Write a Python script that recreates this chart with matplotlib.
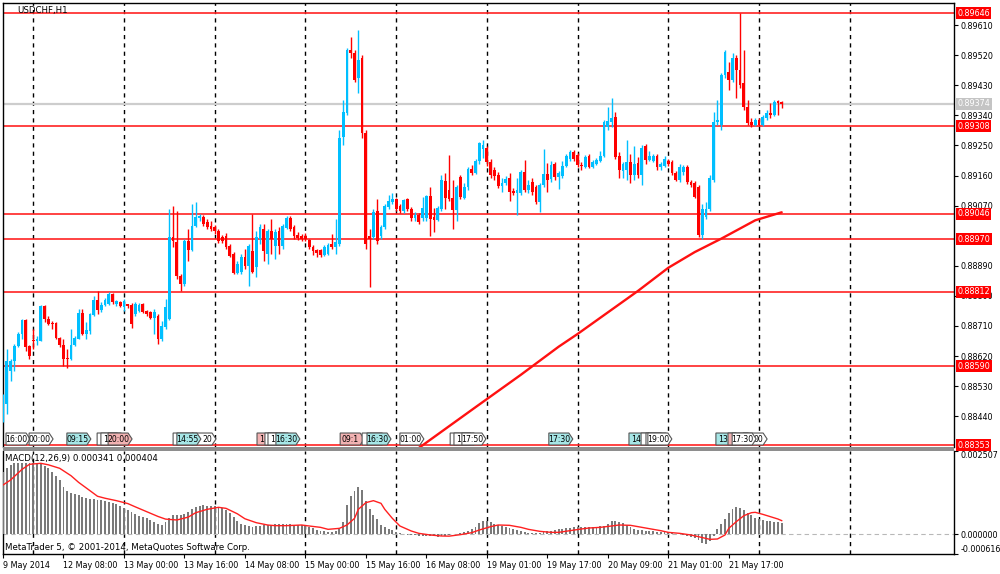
import numpy as np
import matplotlib
matplotlib.use('Agg')
import matplotlib.pyplot as plt
from matplotlib.patches import Polygon, Rectangle
from matplotlib.transforms import blended_transform_factory

# ---------------- DATA ----------------
opens = [0.88430,0.88478,0.88576,0.88606,0.88650,0.88686,0.88728,0.88650,0.88668,0.88665,
0.88665,0.88770,0.88731,0.88719,0.88719,0.88674,0.88653,0.88615,0.88612,0.88653,
0.88671,0.88749,0.88686,0.88695,0.88743,0.88788,0.88758,0.88773,0.88776,0.88805,
0.88776,0.88782,0.88767,0.88776,0.88773,0.88746,0.88755,0.88776,0.88755,0.88752,
0.88734,0.88740,0.88671,0.88707,0.88731,0.88975,0.88960,0.88859,0.88835,0.88963,
0.88937,0.89008,0.89032,0.89035,0.89020,0.89008,0.89005,0.88993,0.88975,0.88978,
0.88948,0.88925,0.88868,0.88871,0.88916,0.88889,0.88934,0.88886,0.88969,0.88999,
0.88925,0.88993,0.88948,0.88993,0.88948,0.89002,0.89032,0.89005,0.88981,0.88978,
0.88978,0.88966,0.88945,0.88937,0.88937,0.88922,0.88925,0.88954,0.88945,0.88954,
0.89276,0.89348,0.89536,0.89527,0.89452,0.89512,0.89288,0.88978,0.88975,0.89053,
0.88978,0.89005,0.89065,0.89080,0.89089,0.89068,0.89053,0.89089,0.89059,0.89032,
0.89041,0.89032,0.89032,0.89100,0.89035,0.89026,0.89059,0.89145,0.89118,0.89094,
0.89056,0.89157,0.89094,0.89127,0.89180,0.89169,0.89202,0.89238,0.89243,0.89199,
0.89178,0.89163,0.89130,0.89139,0.89154,0.89115,0.89109,0.89109,0.89172,0.89118,
0.89142,0.89127,0.89080,0.89133,0.89166,0.89151,0.89193,0.89157,0.89160,0.89187,
0.89208,0.89229,0.89220,0.89190,0.89184,0.89217,0.89184,0.89193,0.89202,0.89217,
0.89306,0.89321,0.89336,0.89217,0.89175,0.89178,0.89199,0.89163,0.89196,0.89163,
0.89249,0.89205,0.89202,0.89217,0.89184,0.89187,0.89202,0.89199,0.89169,0.89148,
0.89172,0.89184,0.89142,0.89139,0.89127,0.88981,0.89035,0.89059,0.89148,0.89321,
0.89312,0.89461,0.89470,0.89446,0.89512,0.89476,0.89437,0.89366,0.89321,0.89312,
0.89327,0.89312,0.89333,0.89348,0.89342,0.89384,0.89381]

closes = [0.88478,0.88606,0.88606,0.88650,0.88686,0.88728,0.88647,0.88621,0.88665,0.88671,
0.88770,0.88731,0.88716,0.88716,0.88674,0.88653,0.88612,0.88612,0.88653,0.88674,
0.88749,0.88686,0.88698,0.88746,0.88788,0.88758,0.88773,0.88788,0.88805,0.88782,
0.88785,0.88770,0.88785,0.88770,0.88716,0.88776,0.88773,0.88752,0.88746,0.88734,
0.88752,0.88671,0.88710,0.88767,0.88975,0.88963,0.88859,0.88835,0.88963,0.88937,
0.89008,0.89035,0.89038,0.89014,0.89005,0.88999,0.88993,0.88963,0.88963,0.88945,
0.88919,0.88868,0.88895,0.88916,0.88889,0.88948,0.88871,0.88975,0.89005,0.88934,
0.88993,0.88969,0.88990,0.88948,0.89008,0.89032,0.88999,0.88978,0.88972,0.88969,
0.88969,0.88945,0.88934,0.88928,0.88922,0.88945,0.88951,0.88945,0.88960,0.89273,
0.89351,0.89536,0.89527,0.89446,0.89506,0.89288,0.88954,0.88969,0.89050,0.88963,
0.89005,0.89068,0.89083,0.89089,0.89059,0.89053,0.89086,0.89059,0.89032,0.89041,
0.89020,0.89062,0.89100,0.89029,0.89026,0.89062,0.89148,0.89094,0.89091,0.89056,
0.89127,0.89097,0.89127,0.89180,0.89169,0.89202,0.89258,0.89252,0.89199,0.89163,
0.89160,0.89130,0.89139,0.89151,0.89112,0.89109,0.89118,0.89172,0.89118,0.89133,
0.89112,0.89080,0.89133,0.89166,0.89148,0.89190,0.89157,0.89169,0.89187,0.89217,
0.89229,0.89208,0.89190,0.89187,0.89214,0.89184,0.89199,0.89205,0.89217,0.89321,
0.89324,0.89333,0.89214,0.89178,0.89193,0.89199,0.89163,0.89193,0.89163,0.89243,
0.89205,0.89217,0.89217,0.89184,0.89193,0.89208,0.89193,0.89169,0.89148,0.89184,
0.89184,0.89142,0.89133,0.89097,0.88981,0.89059,0.89059,0.89154,0.89321,0.89327,
0.89461,0.89530,0.89446,0.89512,0.89476,0.89431,0.89366,0.89318,0.89312,0.89327,
0.89312,0.89336,0.89348,0.89342,0.89381,0.89378,0.89374]

highs = [0.88507,0.88642,0.88612,0.88656,0.88692,0.88731,0.88731,0.88653,0.88701,0.88680,
0.88773,0.88773,0.88740,0.88725,0.88722,0.88677,0.88671,0.88642,0.88701,0.88680,
0.88761,0.88761,0.88722,0.88749,0.88799,0.88814,0.88782,0.88793,0.88811,0.88808,
0.88788,0.88785,0.88791,0.88776,0.88779,0.88782,0.88779,0.88779,0.88758,0.88755,
0.88761,0.88746,0.88725,0.88791,0.89059,0.89068,0.89053,0.88865,0.88969,0.88999,
0.89074,0.89080,0.89044,0.89041,0.89029,0.89023,0.89011,0.88999,0.88981,0.88987,
0.88954,0.88931,0.88904,0.88925,0.88940,0.88954,0.89044,0.88993,0.89014,0.89014,
0.88999,0.89029,0.88999,0.89005,0.89014,0.89038,0.89038,0.89011,0.88990,0.88984,
0.88987,0.88969,0.88951,0.88940,0.88940,0.88951,0.88957,0.88984,0.89029,0.89297,
0.89387,0.89541,0.89574,0.89536,0.89595,0.89521,0.89297,0.88999,0.89059,0.89089,
0.89011,0.89074,0.89103,0.89109,0.89094,0.89074,0.89089,0.89094,0.89065,0.89050,
0.89047,0.89097,0.89103,0.89127,0.89062,0.89068,0.89163,0.89169,0.89222,0.89148,
0.89133,0.89163,0.89139,0.89186,0.89192,0.89208,0.89261,0.89267,0.89249,0.89208,
0.89184,0.89172,0.89154,0.89160,0.89169,0.89124,0.89154,0.89178,0.89205,0.89148,
0.89154,0.89133,0.89139,0.89238,0.89196,0.89202,0.89199,0.89175,0.89202,0.89223,
0.89235,0.89235,0.89226,0.89199,0.89220,0.89223,0.89205,0.89211,0.89232,0.89327,
0.89366,0.89392,0.89351,0.89229,0.89199,0.89267,0.89223,0.89247,0.89214,0.89252,
0.89255,0.89232,0.89223,0.89223,0.89199,0.89217,0.89208,0.89205,0.89175,0.89193,
0.89190,0.89190,0.89148,0.89145,0.89133,0.89074,0.89080,0.89163,0.89351,0.89387,
0.89467,0.89536,0.89500,0.89527,0.89521,0.89646,0.89536,0.89387,0.89333,0.89333,
0.89333,0.89342,0.89357,0.89378,0.89387,0.89387,0.89384]

lows = [0.88424,0.88448,0.88546,0.88576,0.88647,0.88671,0.88636,0.88612,0.88642,0.88653,
0.88665,0.88722,0.88713,0.88701,0.88671,0.88647,0.88591,0.88585,0.88609,0.88650,
0.88671,0.88683,0.88671,0.88686,0.88740,0.88746,0.88752,0.88770,0.88773,0.88776,
0.88770,0.88767,0.88755,0.88764,0.88704,0.88740,0.88752,0.88749,0.88740,0.88731,
0.88686,0.88656,0.88665,0.88701,0.88728,0.88945,0.88850,0.88814,0.88829,0.88904,
0.88934,0.89005,0.89023,0.89008,0.88999,0.88993,0.88984,0.88957,0.88957,0.88940,
0.88916,0.88865,0.88865,0.88865,0.88880,0.88829,0.88868,0.88856,0.88954,0.88904,
0.88895,0.88925,0.88910,0.88925,0.88940,0.88999,0.88993,0.88969,0.88966,0.88963,
0.88963,0.88940,0.88922,0.88916,0.88916,0.88919,0.88922,0.88940,0.88925,0.88948,
0.89252,0.89342,0.89512,0.89440,0.89407,0.89273,0.88940,0.88826,0.88969,0.88954,
0.88969,0.88999,0.89059,0.89074,0.89053,0.89047,0.89047,0.89053,0.89023,0.89023,
0.89014,0.89023,0.89023,0.88978,0.88990,0.89023,0.89053,0.89059,0.89083,0.88999,
0.89023,0.89089,0.89089,0.89118,0.89163,0.89166,0.89193,0.89213,0.89187,0.89154,
0.89148,0.89124,0.89112,0.89133,0.89083,0.89103,0.89041,0.89103,0.89112,0.89109,
0.89103,0.89074,0.89050,0.89127,0.89112,0.89142,0.89148,0.89121,0.89154,0.89184,
0.89202,0.89202,0.89184,0.89178,0.89181,0.89181,0.89181,0.89190,0.89199,0.89214,
0.89297,0.89306,0.89208,0.89154,0.89154,0.89148,0.89139,0.89148,0.89154,0.89133,
0.89193,0.89202,0.89199,0.89178,0.89178,0.89184,0.89187,0.89163,0.89145,0.89142,
0.89163,0.89136,0.89127,0.89094,0.88975,0.88969,0.89029,0.89053,0.89142,0.89312,
0.89297,0.89452,0.89416,0.89440,0.89392,0.89422,0.89357,0.89312,0.89306,0.89309,
0.89309,0.89309,0.89327,0.89333,0.89339,0.89342,0.89363]

# moving average (red curve) read at selected bars
ma_bar = [110, 125, 137, 147, 152, 168, 176, 183, 190, 199, 206]
ma_val = [0.88345, 0.88467, 0.88564, 0.88648, 0.88686, 0.88815, 0.88884, 0.88931, 0.88971,
          0.89026, 0.89050]

# horizontal levels
levels = [0.89646, 0.89308, 0.89046, 0.88970, 0.88812, 0.88590, 0.88353]
bid = 0.89374
price_ticks = [0.89610, 0.89520, 0.89430, 0.89340, 0.89250, 0.89160, 0.89070,
               0.88890, 0.88800, 0.88710, 0.88620, 0.88530, 0.88440]

# MACD histogram (per bar)
macd_hist = [0.001883,0.001984,0.002084,0.002145,0.002155,0.002155,0.002155,0.002145,0.002135,0.002135,
0.002105,0.002064,0.001984,0.001883,0.001752,0.001631,0.001430,0.001309,0.001229,0.001198,
0.001168,0.001118,0.001088,0.001067,0.001047,0.001037,0.001017,0.000987,0.000957,0.000926,
0.000896,0.000846,0.000796,0.000715,0.000655,0.000594,0.000554,0.000524,0.000483,0.000423,
0.000373,0.000312,0.000282,0.000373,0.000493,0.000564,0.000564,0.000564,0.000594,0.000675,
0.000755,0.000816,0.000846,0.000866,0.000856,0.000846,0.000836,0.000806,0.000775,0.000725,
0.000624,0.000514,0.000393,0.000302,0.000262,0.000242,0.000222,0.000242,0.000252,0.000262,
0.000272,0.000282,0.000292,0.000292,0.000302,0.000302,0.000292,0.000282,0.000272,0.000272,
0.000262,0.000211,0.000171,0.000131,0.000101,0.000081,0.000070,0.000070,0.000091,0.000161,
0.000373,0.000876,0.001148,0.001309,0.001430,0.001329,0.001007,0.000765,0.000574,0.000443,
0.000272,0.000201,0.000161,0.000111,0.000060,0.000030,0.000000,-0.000020,-0.000030,-0.000040,
-0.000050,-0.000050,-0.000060,-0.000060,-0.000070,-0.000081,-0.000070,-0.000050,-0.000030,-0.000010,
0.000010,0.000020,0.000050,0.000091,0.000141,0.000222,0.000332,0.000403,0.000393,0.000352,
0.000312,0.000272,0.000242,0.000211,0.000171,0.000161,0.000131,0.000101,0.000070,0.000040,
0.000040,0.000040,0.000040,0.000060,0.000081,0.000101,0.000121,0.000141,0.000161,0.000181,
0.000191,0.000201,0.000201,0.000201,0.000201,0.000211,0.000211,0.000222,0.000232,0.000252,
0.000312,0.000393,0.000403,0.000363,0.000322,0.000262,0.000211,0.000161,0.000121,0.000111,
0.000091,0.000081,0.000081,0.000070,0.000060,0.000060,0.000050,0.000030,0.000010,-0.000010,
-0.000030,-0.000050,-0.000081,-0.000121,-0.000181,-0.000282,-0.000302,-0.000201,-0.000060,0.000141,
0.000302,0.000443,0.000624,0.000765,0.000806,0.000785,0.000725,0.000644,0.000564,0.000483,
0.000443,0.000413,0.000393,0.000383,0.000373,0.000373,0.000341]

# MACD signal line read at selected bars
sig_bar = [0,2,5,7,10,12,15,18,20,23,25,27,30,33,35,38,41,43,46,49,51,54,57,59,62,64,67,70,72,75,
           79,81,84,86,89,91,93,94,96,98,100,101,103,105,108,110,113,116,118,121,124,126,129,131,
           134,137,139,142,145,147,150,153,155,158,161,163,166,168,171,174,176,179,182,184,187,189,
           191,192,194,196,198,199,201,203,205,206]
sig_val = [0.001480,0.001631,0.001950,0.002105,0.002135,0.002090,0.001984,0.001760,0.001560,0.001309,
           0.001140,0.001080,0.001007,0.000920,0.000820,0.000675,0.000530,0.000450,0.000423,0.000510,
           0.000644,0.000745,0.000806,0.000775,0.000610,0.000460,0.000342,0.000272,0.000252,0.000252,
           0.000272,0.000242,0.000201,0.000141,0.000171,0.000272,0.000473,0.000745,0.000947,0.001007,
           0.000926,0.000745,0.000473,0.000242,0.000091,0.000020,-0.000030,-0.000060,-0.000065,-0.000020,
           0.000040,0.000121,0.000222,0.000272,0.000262,0.000201,0.000141,0.000081,0.000050,0.000050,
           0.000101,0.000151,0.000181,0.000201,0.000242,0.000272,0.000262,0.000222,0.000161,0.000101,
           0.000050,0.000020,-0.000030,-0.000081,-0.000161,-0.000151,-0.000030,0.000171,0.000373,0.000554,
           0.000644,0.000655,0.000594,0.000524,0.000453,0.000404]

macd_ticks = [0.002507, 0.0, -0.000616]
macd_tick_labels = ['0.002507', '0.000000', '-0.000616']

date_bars = [0, 16, 32, 48, 64, 80, 96, 112, 128, 144, 160, 176, 192]
date_labels = ['9 May 2014', '12 May 08:00', '13 May 00:00', '13 May 16:00', '14 May 08:00',
               '15 May 00:00', '15 May 16:00', '16 May 08:00', '19 May 01:00', '19 May 17:00',
               '20 May 09:00', '21 May 01:00', '21 May 17:00']
day_sep_bars = [8, 32, 56, 80, 104, 128, 152, 176, 200, 224]

# economic-calendar event flags: bar position, visible text, alignment, colour kind, layer
ev_bar = [0.8, 6.9, 16.9, 24.9, 25.9, 27.8, 45.0, 46.0, 50.0, 67.2, 69.3, 70.1, 72.2, 89.2, 95.0,
          96.3, 105.0, 118.3, 119.3, 121.4, 144.4, 165.6, 168.8, 170.1, 170.6, 188.6, 191.8, 195.8, 192.9]
ev_text = ['16:00', '00:00', '09:15', '', '1', '20:00', '', '14:55', '20', '1', '', '1',
           '16:30', '09:1', '', '16:30', '01:00', '', '1', '17:50', '17:30', '14', '', '',
           '19:00', '13', '', '00', '17:30']
ev_align = ['c', 'c', 'c', 'l', 'l', 'c', 'l', 'c', 'r', 'l', 'l', 'l', 'c', 'l', 'l', 'c', 'c', 'l',
            'l', 'c', 'c', 'l', 'l', 'l', 'c', 'l', 'l', 'r', 'c']
ev_kind = ['w', 'w', 'c', 'w', 'w', 'p', 'w', 'c', 'w', 'p', 'w', 'w', 'c', 'p', 'w', 'c', 'w', 'w',
           'w', 'w', 'c', 'c', 'w', 'w', 'w', 'c', 'p', 'w', 'w']
ev_layer = [1, 2, 1, 1, 2, 3, 1, 3, 2, 1, 2, 3, 4, 1, 2, 3, 1, 1, 2, 3, 1, 1, 2, 3, 4, 1, 2, 3, 4]

# ---------------- FIGURE ----------------
plt.rcParams['font.family'] = ['DejaVu Sans']
W, H = 1000, 574
fig = plt.figure(figsize=(W / 100, H / 100), dpi=100)
fig.patch.set_facecolor('white')

def fx(px):
    return px / W

def fy(py):
    return 1 - py / H

L, R = 3, 954
ax = fig.add_axes([fx(L), fy(447), fx(R) - fx(L), fy(3) - fy(447)])
axm = fig.add_axes([fx(L), fy(554.4), fx(R) - fx(L), fy(451) - fy(554.4)])

bar_px = 3.78
xmax = (R - L) / bar_px
for a in (ax, axm):
    a.set_xlim(0, xmax)
    a.set_facecolor('white')

ax.set_ylim(0.88348, 0.89676)
axm.set_ylim(-0.000616, 0.002507)

o = np.array(opens); c = np.array(closes); h = np.array(highs); l = np.array(lows)
idx = np.arange(len(o))
up = c >= o
cols = np.where(up, '#00BFFF', '#FF0000')

# day separators
for b in day_sep_bars:
    for a in (ax, axm):
        a.axvline(b, color='black', lw=1.0, ls=(0, (3, 3)), zorder=1)

# levels
ax.axhline(bid, color='#CDCDCD', lw=1.6, zorder=1.5)
for lv in levels:
    ax.axhline(lv, color='#FF2222', lw=1.2, zorder=2)

# candles
ax.vlines(idx, l, h, colors=cols, lw=1.0, zorder=3)
bh = np.maximum(np.abs(c - o), 0.00003)
ax.bar(idx, bh, bottom=np.minimum(o, c), width=0.74, color=cols, lw=0, zorder=4)

# event flags
tr = blended_transform_factory(ax.transData, ax.transAxes)
fills = {'w': '#FFFFFF', 'c': '#A6E6E6', 'p': '#F2B2B2'}
bw = 24 / bar_px
tip = 4 / bar_px
pad = 1.8 / bar_px
y0, y1 = 0.0045, 0.0315
ym = (y0 + y1) / 2
for b, t, al, k, lay in zip(ev_bar, ev_text, ev_align, ev_kind, ev_layer):
    poly = Polygon([(b, y0), (b + bw - tip, y0), (b + bw, ym), (b + bw - tip, y1), (b, y1)],
                   closed=True, transform=tr, fc=fills[k], ec='#555555', lw=0.8,
                   zorder=10 + 2 * lay)
    ax.add_patch(poly)
    if t:
        if al == 'c':
            xt, ha = b + (bw - tip) / 2 + 0.1, 'center'
        elif al == 'l':
            xt, ha = b + pad, 'left'
        else:
            xt, ha = b + bw - tip, 'right'
        ax.text(xt, ym, t, transform=tr, fontsize=5.6, ha=ha, va='center', color='black',
                zorder=11 + 2 * lay, clip_on=True)

# moving average
ax.plot(ma_bar, ma_val, color='#FF1111', lw=1.7, zorder=20, solid_capstyle='round')

# right axis of price panel
ax.yaxis.tick_right()
ax.set_yticks(price_ticks)
ax.set_yticklabels(['%.5f' % v for v in price_ticks])
ax.tick_params(axis='y', direction='out', length=3, width=0.8, labelsize=5.8, pad=2, colors='black')
ax.tick_params(axis='x', bottom=False, labelbottom=False)
ax.spines['bottom'].set_visible(False)
for s in ('left', 'top', 'right'):
    ax.spines[s].set_color('black')
    ax.spines[s].set_linewidth(1.0)

trr = blended_transform_factory(ax.transAxes, ax.transData)
for lv in levels:
    ax.text(1.0035, lv, '%.5f' % lv, transform=trr, fontsize=5.8, color='white', ha='left',
            va='center', zorder=30,
            bbox=dict(boxstyle='square,pad=0.18', fc='#FF0000', ec='none'))
ax.text(1.0035, bid, '%.5f' % bid, transform=trr, fontsize=5.8, color='white', ha='left',
        va='center', zorder=30, bbox=dict(boxstyle='square,pad=0.18', fc='#C4C4C4', ec='none'))

# MACD panel
axm.axhline(0, color='#B8B8B8', lw=0.8, ls=(0, (4, 3)), zorder=1)
axm.bar(idx, macd_hist, width=0.5, color='#7A7A7A', lw=0, zorder=3)
axm.plot(sig_bar, sig_val, color='#FF2020', lw=1.0, zorder=4)
axm.yaxis.tick_right()
axm.set_yticks(macd_ticks)
axm.set_yticklabels(macd_tick_labels)
axm.tick_params(axis='y', direction='out', length=3, width=0.8, labelsize=5.8, pad=2)
ylabs = axm.get_yticklabels()
ylabs[0].set_va('top')
ylabs[2].set_va('bottom')
axm.set_xticks(date_bars)
axm.set_xticklabels(date_labels)
axm.tick_params(axis='x', direction='out', length=3, width=0.8, labelsize=5.8, pad=2)
for lab in axm.get_xticklabels():
    lab.set_ha('left')
axm.spines['top'].set_visible(False)
for s in ('left', 'bottom', 'right'):
    axm.spines[s].set_color('black')
    axm.spines[s].set_linewidth(1.0)

# separator between panels
fig.add_artist(Rectangle((fx(L), fy(451)), fx(R) - fx(L), fy(447) - fy(451),
                         transform=fig.transFigure, fc='#8E8E8E', ec='none', zorder=5))

# texts
fig.text(fx(17), fy(10), 'USDCHF,H1', fontsize=6.2, va='center', ha='left')
fig.text(fx(5), fy(458), 'MACD(12,26,9) 0.000341 0.000404', fontsize=6.2, va='center', ha='left')
fig.text(fx(5), fy(547), 'MetaTrader 5, \u00a9 2001-2014, MetaQuotes Software Corp.', fontsize=6.2,
         va='center', ha='left')

fig.savefig('out.png', dpi=100, facecolor='white')
